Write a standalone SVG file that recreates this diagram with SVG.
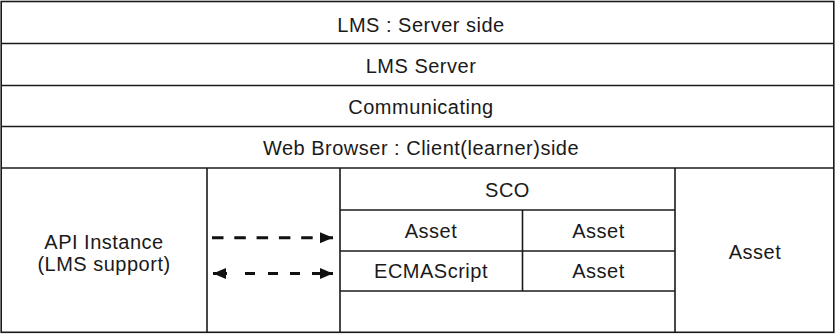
<svg xmlns="http://www.w3.org/2000/svg" width="836" height="334" viewBox="0 0 836 334">
  <style>
    .t { font-family: "Liberation Sans", Arial, sans-serif; font-size: 20px; letter-spacing: 0.5px; fill: #1a1a1a; text-anchor: middle; }
    .ln { stroke: #1a1a1a; stroke-width: 1.6; fill: none; }
    .conn { stroke: #111; stroke-width: 3; fill: none; }
  </style>
  <defs>
    <marker id="head" markerUnits="userSpaceOnUse" viewBox="0 0 13 11" markerWidth="13" markerHeight="11" refX="13" refY="5.5" orient="auto-start-reverse">
      <path d="M0,0 L13,5.5 L0,11 z" fill="#111"/>
    </marker>
  </defs>
  <rect width="836" height="334" fill="#fff"/>

  <g id="frame">
    <rect x="1.2" y="1.5" width="832.6" height="330.8" class="ln" stroke-width="2.6"/>
  </g>

  <g id="lms-server-side">
    <line x1="1" y1="43.5" x2="834" y2="43.5" class="ln"/>
    <text class="t" x="421" y="31.5">LMS : Server side</text>
  </g>
  <g id="lms-server">
    <line x1="1" y1="85.5" x2="834" y2="85.5" class="ln"/>
    <text class="t" x="421" y="72.5">LMS Server</text>
  </g>
  <g id="communicating">
    <line x1="1" y1="126.5" x2="834" y2="126.5" class="ln"/>
    <text class="t" x="421" y="113.5">Communicating</text>
  </g>
  <g id="web-browser">
    <line x1="1" y1="168" x2="834" y2="168" class="ln"/>
    <text class="t" x="421" y="154.5">Web Browser : Client(learner)side</text>
  </g>

  <g id="api-instance">
    <line x1="207" y1="168" x2="207" y2="333" class="ln"/>
    <text class="t" x="104" y="248.5">API Instance</text>
    <text class="t" x="104" y="271">(LMS support)</text>
  </g>

  <g id="sco">
    <line x1="340" y1="168" x2="340" y2="333" class="ln"/>
    <line x1="675" y1="168" x2="675" y2="333" class="ln"/>
    <line x1="340" y1="210" x2="675" y2="210" class="ln"/>
    <text class="t" x="507.5" y="196.5">SCO</text>
  </g>
  <g id="sco-asset-1">
    <line x1="340" y1="251" x2="675" y2="251" class="ln"/>
    <line x1="522.5" y1="210" x2="522.5" y2="291" class="ln"/>
    <text class="t" x="431" y="238">Asset</text>
  </g>
  <g id="sco-asset-2">
    <text class="t" x="598.5" y="238">Asset</text>
  </g>
  <g id="ecmascript">
    <line x1="340" y1="291" x2="675" y2="291" class="ln"/>
    <text class="t" x="431" y="277.5">ECMAScript</text>
  </g>
  <g id="sco-asset-3">
    <text class="t" x="598.5" y="277.5">Asset</text>
  </g>
  <g id="asset-right">
    <text class="t" x="755" y="259">Asset</text>
  </g>

  <g id="connectors">
    <line x1="212" y1="237.7" x2="333" y2="237.7" class="conn" stroke-dasharray="11.5 10.8" marker-end="url(#head)"/>
    <line x1="213" y1="273.5" x2="333" y2="273.5" class="conn" stroke-dasharray="14 18 10 13 10 12 10 12 21" marker-start="url(#head)" marker-end="url(#head)"/>
  </g>
</svg>
